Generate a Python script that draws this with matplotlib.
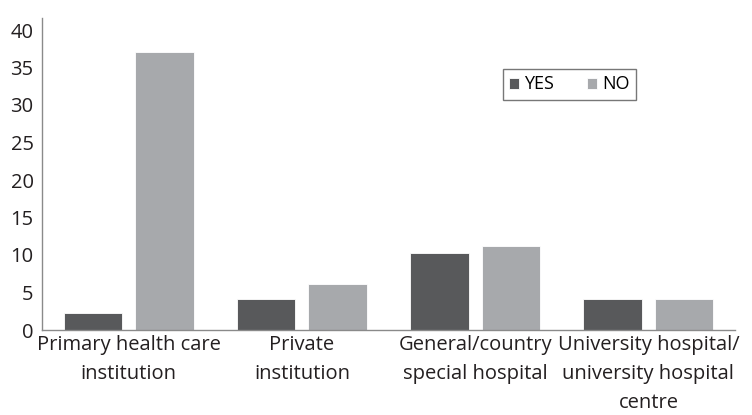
import numpy as np
import matplotlib.pyplot as plt

# data
categories = ['Primary health care\ninstitution', 'Private\ninstitution',
              'General/country\nspecial hospital',
              'University hospital/\nuniversity hospital\ncentre']
yes_values = [2.3, 4.1, 10.3, 4.2]
no_values = [37.0, 6.2, 11.2, 4.2]
y_ticks = [0, 5, 10, 15, 20, 25, 30, 35, 40]

plt.rcParams['font.family'] = ['Open Sans', 'DejaVu Sans']

fig = plt.figure(figsize=(7.52, 4.15), dpi=100)
ax = fig.add_axes([42 / 752, 1 - 330 / 415, (735 - 42) / 752, (330 - 18) / 415])

x = np.arange(len(categories))
width = 0.337
offset = 0.206
ax.bar(x - offset, yes_values, width, color='#58595b', edgecolor='white',
       linewidth=0.6, label='YES')
ax.bar(x + offset, no_values, width, color='#a7a9ac', edgecolor='white',
       linewidth=0.6, label='NO')

ax.set_xlim(-0.5, len(categories) - 0.5)
ax.set_ylim(0, 41.6)
ax.set_yticks(y_ticks)
ax.set_xticks(x)
ax.set_xticklabels(categories, linespacing=1.6)
ax.tick_params(axis='both', length=0, labelsize=14.5, colors='#231f20')
ax.tick_params(axis='y', pad=6)
ax.tick_params(axis='x', pad=3.5)

for side in ['top', 'right']:
    ax.spines[side].set_visible(False)
for side in ['left', 'bottom']:
    ax.spines[side].set_color('#8a8a8a')
    ax.spines[side].set_linewidth(1.0)

leg = ax.legend(loc='upper left', bbox_to_anchor=(0.665, 0.836), ncol=2,
                fontsize=13, frameon=True, fancybox=False, borderaxespad=0,
                handlelength=0.55, handleheight=0.55, handletextpad=0.3,
                columnspacing=1.8, borderpad=0.35)
leg.get_frame().set_edgecolor('#555555')
leg.get_frame().set_linewidth(1.0)

fig.savefig('out.png', dpi=100)
